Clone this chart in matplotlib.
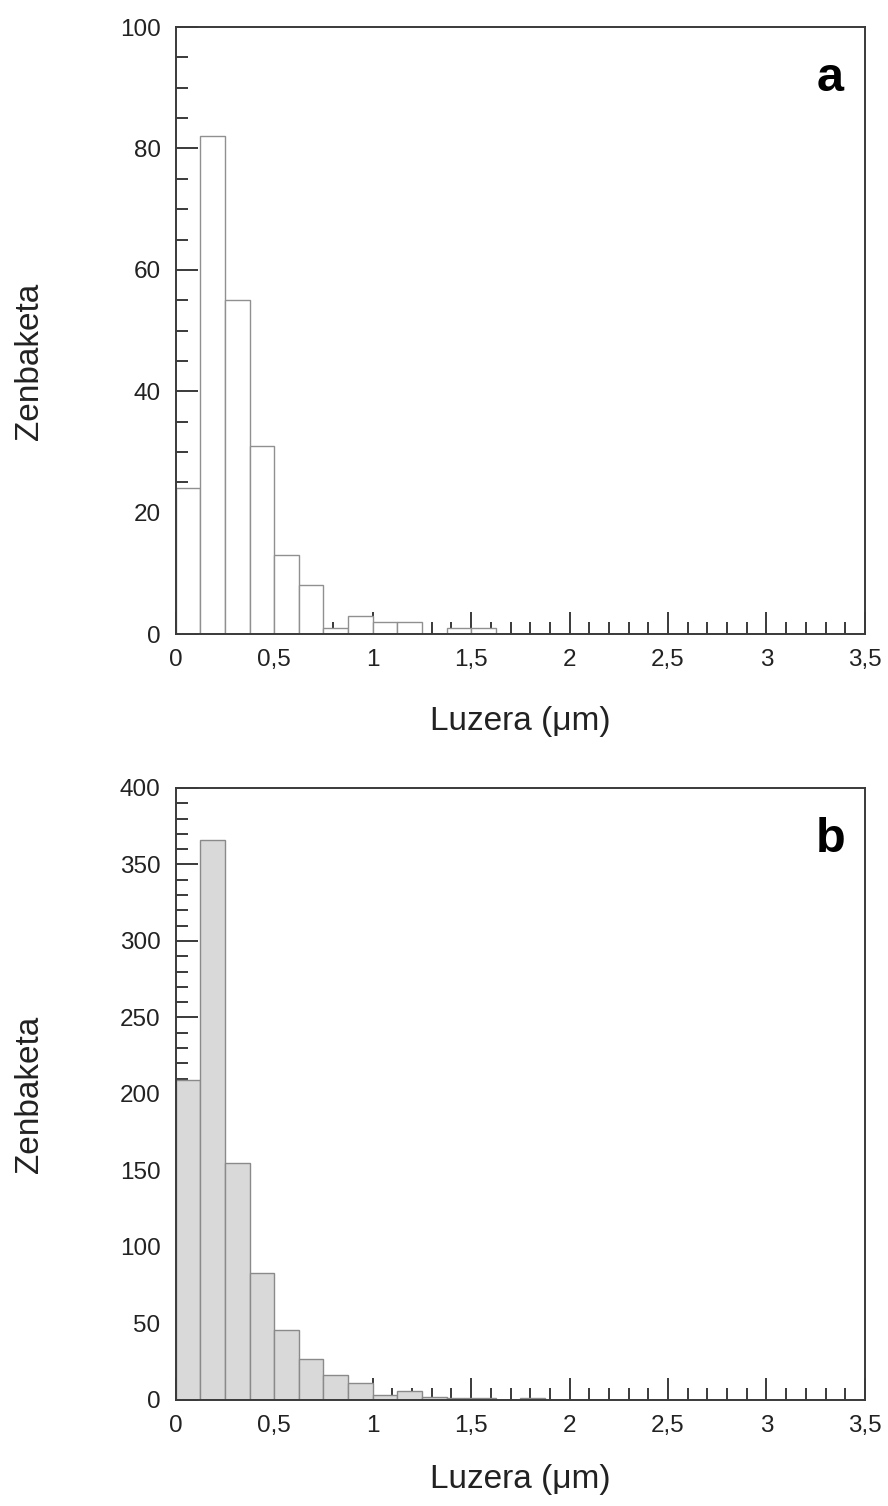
import matplotlib
matplotlib.use("Agg")
import matplotlib.pyplot as plt
from matplotlib.ticker import MultipleLocator
import numpy as np

plt.rcParams["font.family"] = ["Liberation Sans", "DejaVu Sans"]

# bin edges (um), width 0.125
bin_width = 0.125
bin_left = np.arange(0, 3.5, bin_width)

counts_a = [24, 82, 55, 31, 13, 8, 1, 3, 2, 2, 0, 1, 1, 0,
            0, 0, 0, 0, 0, 0, 0, 0, 0, 0, 0, 0, 0, 0]
counts_b = [209, 366, 155, 83, 46, 27, 16, 11, 3, 6, 2, 1, 1, 0,
            1, 0, 0, 0, 0, 0, 0, 0, 0, 0, 0, 0, 0, 0]

xtick_vals = [0, 0.5, 1, 1.5, 2, 2.5, 3, 3.5]
xtick_labels = ["0", "0,5", "1", "1,5", "2", "2,5", "3", "3,5"]

xlabel = "Luzera (\u03bcm)"
ylabel = "Zenbaketa"

fig = plt.figure(figsize=(8.88, 15.06), dpi=100)
ax_a = fig.add_axes([0.198, 0.579, 0.776, 0.403])
ax_b = fig.add_axes([0.198, 0.0704, 0.776, 0.4064])

spine_col = "#3a3a3a"
text_col = "#222222"


def style_axes(ax, ymax, ymajor, yminor, letter, xlab_y, ylab_y):
    ax.set_xlim(0, 3.5)
    ax.set_ylim(0, ymax)
    ax.set_xticks(xtick_vals)
    ax.set_xticklabels(xtick_labels)
    ax.xaxis.set_minor_locator(MultipleLocator(0.1))
    ax.yaxis.set_major_locator(MultipleLocator(ymajor))
    ax.yaxis.set_minor_locator(MultipleLocator(yminor))
    ax.tick_params(which="both", direction="in", colors=spine_col,
                   labelcolor=text_col, labelsize=17.5, width=1.4)
    ax.tick_params(which="major", length=16, pad=11)
    ax.tick_params(which="minor", length=8.5)
    for s in ax.spines.values():
        s.set_color(spine_col)
        s.set_linewidth(1.4)
    ax.set_xlabel(xlabel, fontsize=24, color=text_col)
    ax.set_ylabel(ylabel, fontsize=24, color=text_col)
    ax.xaxis.set_label_coords(0.5, xlab_y)
    ax.yaxis.set_label_coords(-0.19, ylab_y)
    ax.text(0.95, 0.915, letter, transform=ax.transAxes, fontsize=35,
            fontweight="bold", ha="center", va="center", color="black")


ax_a.bar(bin_left, counts_a, width=bin_width, align="edge",
         facecolor="white", edgecolor="#909090", linewidth=1.0, zorder=2)
ax_b.bar(bin_left, counts_b, width=bin_width, align="edge",
         facecolor="#d9d9d9", edgecolor="#8a8a8a", linewidth=1.0, zorder=2)

style_axes(ax_a, 100, 20, 5, "a", -0.118, 0.45)
style_axes(ax_b, 400, 50, 10, "b", -0.105, 0.5)

fig.savefig("out.png", dpi=100)
